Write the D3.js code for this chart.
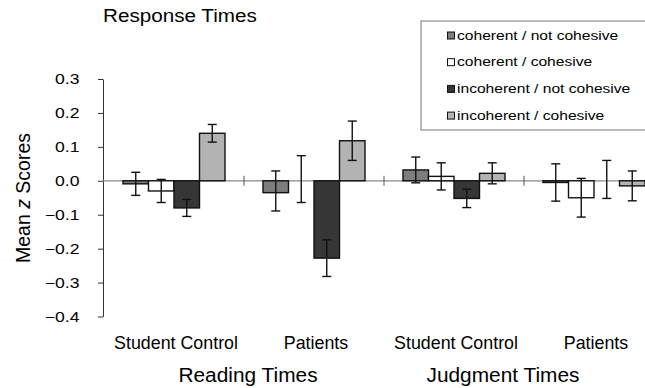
<!DOCTYPE html>
<html>
<head>
<meta charset="utf-8">
<script src="https://cdn.jsdelivr.net/npm/d3@7"></script>
<style>
  html, body { margin: 0; padding: 0; background: #fff; }
  svg { display: block; font-family: "Liberation Sans", Arial, Helvetica, sans-serif; }
</style>
</head>
<body>
<svg id="chart" width="645" height="388"></svg>
<script>
// Groups along the x axis and the two measures they belong to
const groups = ["Student Control", "Patients", "Student Control", "Patients"];
const measures = ["Reading Times", "Judgment Times"];
const seriesNames = [
  "coherent / not cohesive",
  "coherent / cohesive",
  "incoherent / not cohesive",
  "incoherent / cohesive"
];
const seriesColors = ["#7d7d7d", "#ffffff", "#363636", "#b3b3b3"];

// Mean z scores per condition, one value per group
const coherentNotCohesive   = [-0.009, -0.035,  0.032, -0.005];
const coherentCohesive      = [-0.030,  0.000,  0.013, -0.050];
const incoherentNotCohesive = [-0.080, -0.228, -0.052,  0.000];
const incoherentCohesive    = [ 0.140,  0.118,  0.022, -0.015];

// Half-widths of the error bars
const errCoherentNotCohesive   = [0.034, 0.059, 0.038, 0.055];
const errCoherentCohesive      = [0.034, 0.069, 0.040, 0.057];
const errIncoherentNotCohesive = [0.025, 0.054, 0.027, 0.056];
const errIncoherentCohesive    = [0.026, 0.058, 0.031, 0.044];

// Error bar centres where they sit off the bar end
const errCentreShift = [
  [0, 0.005, 0, 0],
  [0, 0.005, 0, 0],
  [0, 0, 0, 0.004],
  [0, 0, 0, 0]
];

const yTicks = [0.3, 0.2, 0.1, 0.0, -0.1, -0.2, -0.3, -0.4];

const seriesValues = [coherentNotCohesive, coherentCohesive, incoherentNotCohesive, incoherentCohesive];
const seriesErrors = [errCoherentNotCohesive, errCoherentCohesive, errIncoherentNotCohesive, errIncoherentCohesive];

const svg = d3.select("#chart");

const y = d3.scaleLinear().domain([-0.4, 0.3]).range([316.5, 79]);
const groupIdx = d3.range(groups.length);
const x0 = d3.scaleBand().domain(groupIdx).range([104, 664]);
const x1 = d3.scaleBand().domain(d3.range(seriesNames.length))
  .range([0, x0.bandwidth()]).paddingInner(0).paddingOuter(0.745);

// Text helper with horizontal glyph stretch
function label(parent, txt, x, yy, size, anchor, sx) {
  const g = parent.append("g").attr("transform", `translate(${x},${yy}) scale(${sx},1)`);
  return g.append("text").attr("text-anchor", anchor).attr("font-size", size)
    .attr("fill", "#000").text(txt);
}

// Y axis
const yAxis = svg.append("g").attr("transform", `translate(${103},0)`)
  .call(d3.axisLeft(y).tickValues(yTicks).tickFormat(d3.format(".1f")).tickSize(5).tickSizeOuter(0));
yAxis.select(".domain").attr("stroke", "#333").attr("stroke-width", 1);
yAxis.selectAll(".tick line").attr("stroke", "#333");
yAxis.selectAll(".tick text").remove();
yTicks.forEach(t => {
  label(svg, d3.format(".1f")(t), 79.5, y(t) + 5, 14.3, "end", 1.23);
});

// Zero line with separators between groups
svg.append("line").attr("x1", 103).attr("x2", 664)
  .attr("y1", y(0)).attr("y2", y(0)).attr("stroke", "#8a8a8a").attr("stroke-width", 1.2);
groupIdx.slice(1).forEach(i => {
  svg.append("line").attr("x1", x0(i)).attr("x2", x0(i))
    .attr("y1", y(0) - 5).attr("y2", y(0) + 5).attr("stroke", "#555").attr("stroke-width", 1);
});

// Bars
const barData = [];
groupIdx.forEach(g => {
  seriesNames.forEach((s, k) => {
    barData.push({ g, k, v: seriesValues[k][g], e: seriesErrors[k][g], c: seriesValues[k][g] + errCentreShift[k][g] });
  });
});

const bars = svg.append("g");
bars.selectAll("rect").data(barData.filter(d => d.v !== 0)).join("rect")
  .attr("x", d => x0(d.g) + x1(d.k))
  .attr("width", x1.bandwidth())
  .attr("y", d => y(Math.max(0, d.v)))
  .attr("height", d => Math.abs(y(d.v) - y(0)))
  .attr("fill", d => seriesColors[d.k])
  .attr("stroke", "#111").attr("stroke-width", 1.4);

// Error bars
const eb = svg.append("g").attr("stroke", "#111").attr("stroke-width", 1.4);
barData.forEach(d => {
  const cx = x0(d.g) + x1(d.k) + x1.bandwidth() / 2;
  const top = y(d.c + d.e), bot = y(d.c - d.e);
  eb.append("line").attr("x1", cx).attr("x2", cx).attr("y1", top).attr("y2", bot);
  eb.append("line").attr("x1", cx - 4.5).attr("x2", cx + 4.5).attr("y1", top).attr("y2", top);
  eb.append("line").attr("x1", cx - 4.5).attr("x2", cx + 4.5).attr("y1", bot).attr("y2", bot);
});

// Group labels
groupIdx.forEach(i => {
  label(svg, groups[i], x0(i) + x0.bandwidth() / 2 + 2, 349, 17.5, "middle", 1.02);
});
// Measure labels
const measureX = [248, 503];
measures.forEach((m, i) => label(svg, m, measureX[i], 381.5, 19.5, "middle", 1.07));

// Title
label(svg, "Response Times", 103, 22, 19, "start", 1.087);

// Y axis title
const yt = svg.append("text")
  .attr("transform", `translate(30,198) rotate(-90)`)
  .attr("text-anchor", "middle").attr("font-size", 19.5).attr("fill", "#000");
yt.append("tspan").text("Mean ");
yt.append("tspan").attr("font-style", "italic").text("z");
yt.append("tspan").text(" Scores");

// Legend
const lg = svg.append("g");
lg.append("rect").attr("x", 421).attr("y", 21).attr("width", 260).attr("height", 109)
  .attr("fill", "#fff").attr("stroke", "#777").attr("stroke-width", 1);
seriesNames.forEach((s, k) => {
  const by = 39.5 + k * 26.7;
  lg.append("rect").attr("x", 447.5).attr("y", by - 7.5).attr("width", 7).attr("height", 7)
    .attr("fill", seriesColors[k]).attr("stroke", "#111").attr("stroke-width", 1);
  label(lg, s, 457, by, 13, "start", 1.2);
});
</script>
</body>
</html>
